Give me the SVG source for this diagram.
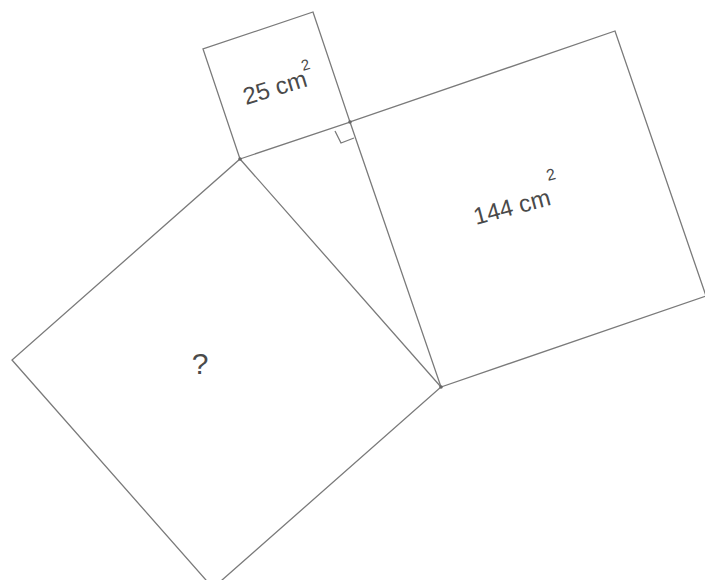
<svg xmlns="http://www.w3.org/2000/svg" width="705" height="580" viewBox="0 0 705 580">
<style>
.sq{fill:none;stroke:#7a7a7a;stroke-width:1.3;stroke-linejoin:miter}
.lbl{font-family:"Liberation Sans","DejaVu Sans",sans-serif;fill:#4a4a4a;font-weight:300}
.dot{fill:#666}
</style>
<rect width="705" height="580" fill="#fff"/>
<g id="square-small">
<polygon class="sq" points="240,159 350,122 313,12 203,49"/>
<text class="lbl" font-size="24" transform="translate(246,105) rotate(-17)">25 cm</text>
<text class="lbl" font-size="15" transform="translate(303,71) rotate(-17)">2</text>
</g>
<g id="square-large">
<polygon class="sq" points="350,122 441,387 706,296 615,31"/>
<text class="lbl" font-size="24" transform="translate(476,225) rotate(-15)">144 cm</text>
<text class="lbl" font-size="16" transform="translate(548,181) rotate(-15)">2</text>
</g>
<g id="square-unknown">
<polygon class="sq" points="240,159 441,387 213,588 12,360"/>
<text class="lbl" font-size="30" x="200" y="374" text-anchor="middle">?</text>
</g>
<g id="connectors">
<polyline class="sq" points="335,131 341,143 354,138"/>
<circle class="dot" cx="240" cy="159" r="1.8"/>
<circle class="dot" cx="350" cy="122" r="1.8"/>
<circle class="dot" cx="441" cy="387" r="1.8"/>
</g>
</svg>
